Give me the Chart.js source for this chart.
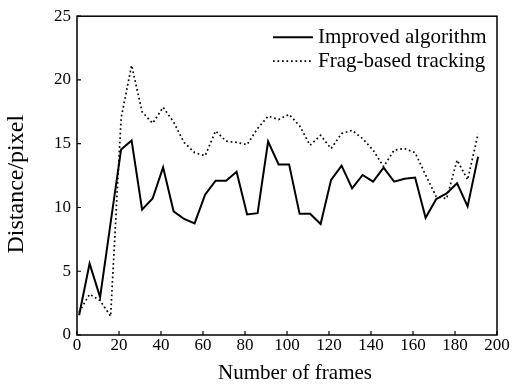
<!DOCTYPE html>
<html>
<head>
<meta charset="utf-8">
<script src="https://cdn.jsdelivr.net/npm/chart.js@4"></script>
<style>
  html, body { margin: 0; padding: 0; background: #fff; }
  #wrap { width: 512px; height: 387px; }
</style>
</head>
<body>
<div id="wrap"><canvas id="lineChart" width="512" height="387"></canvas></div>
<script>
const frames = [1, 6, 11, 16, 21, 26, 31, 36, 41, 46, 51, 56, 61, 66, 71, 76, 81, 86, 91, 96,
  101, 106, 111, 116, 121, 126, 131, 136, 141, 146, 151, 156, 161, 166, 171, 176, 181, 186, 191];
const improved = [1.55, 5.6, 2.97, 8.8, 14.55, 15.25, 9.83, 10.7, 13.15, 9.7, 9.1, 8.75, 11.0, 12.1, 12.1, 12.8, 9.45, 9.55, 15.17, 13.38,
  13.38, 9.5, 9.5, 8.7, 12.17, 13.28, 11.5, 12.55, 12.03, 13.12, 12.03, 12.25, 12.35, 9.19, 10.65, 11.1, 11.9, 10.09, 13.98];
const fragBased = [1.8, 3.2, 2.7, 1.47, 17.0, 21.15, 17.5, 16.6, 17.86, 16.7, 15.1, 14.3, 14.05, 16.0, 15.2, 15.1, 14.93, 16.2, 17.16, 16.9,
  17.3, 16.4, 14.88, 15.66, 14.62, 15.8, 16.05, 15.4, 14.5, 13.2, 14.5, 14.62, 14.3, 12.55, 10.87, 10.69, 13.72, 12.17, 15.78];
const xTicks = [0, 20, 40, 60, 80, 100, 120, 140, 160, 180, 200];
const yTicks = [0, 5, 10, 15, 20, 25];
const seriesNames = ['Improved algorithm', 'Frag-based tracking'];
const xTitle = 'Number of frames';
const yTitle = 'Distance/pixel';

const serif = "'Liberation Serif', 'Times New Roman', serif";

function toPoints(values) {
  return frames.map((f, i) => ({ x: f, y: values[i] }));
}

// box round the plot, MATLAB-style inward ticks, axis titles
const frameBox = {
  id: 'frameBox',
  afterDraw(chart) {
    const { ctx, chartArea: a, scales } = chart;
    ctx.save();
    ctx.strokeStyle = '#000';
    ctx.lineWidth = 1.5;
    ctx.strokeRect(a.left, a.top, a.right - a.left, a.bottom - a.top);
    ctx.lineWidth = 1.2;
    ctx.beginPath();
    xTicks.forEach((v) => {
      const px = scales.x.getPixelForValue(v);
      ctx.moveTo(px, a.bottom);
      ctx.lineTo(px, a.bottom - 4);
    });
    yTicks.forEach((v) => {
      const py = scales.y.getPixelForValue(v);
      ctx.moveTo(a.left, py);
      ctx.lineTo(a.left + 4, py);
    });
    ctx.stroke();

    ctx.fillStyle = '#000';
    ctx.textAlign = 'center';
    ctx.textBaseline = 'middle';
    ctx.font = '21px ' + serif;
    ctx.fillText(xTitle, a.left + 218, a.bottom + 38);
    ctx.translate(17, a.top + 168);
    ctx.rotate(-Math.PI / 2);
    ctx.font = '24px ' + serif;
    ctx.fillText(yTitle, 0, 0);
    ctx.restore();
  }
};

// legend without a box, top right inside the plot
const cornerLegend = {
  id: 'cornerLegend',
  afterDraw(chart) {
    const { ctx, chartArea: a } = chart;
    ctx.save();
    ctx.font = '21px ' + serif;
    ctx.fillStyle = '#000';
    ctx.textBaseline = 'middle';
    chart.data.datasets.forEach((ds, i) => {
      const y = a.top + 21 + i * 24;
      const x0 = a.left + 196;
      ctx.strokeStyle = ds.borderColor;
      ctx.lineWidth = ds.borderWidth;
      ctx.setLineDash(ds.borderDash || []);
      ctx.beginPath();
      ctx.moveTo(x0, y);
      ctx.lineTo(x0 + 40, y);
      ctx.stroke();
      ctx.fillText(ds.label, x0 + 45, y);
    });
    ctx.restore();
  }
};

new Chart(document.getElementById('lineChart'), {
  type: 'line',
  data: {
    datasets: [
      {
        label: seriesNames[0],
        data: toPoints(improved),
        borderColor: '#000',
        borderWidth: 2,
        pointRadius: 0,
        tension: 0,
        fill: false
      },
      {
        label: seriesNames[1],
        data: toPoints(fragBased),
        borderColor: '#000',
        borderWidth: 1.7,
        borderDash: [1.7, 2.8],
        pointRadius: 0,
        tension: 0,
        fill: false
      }
    ]
  },
  options: {
    responsive: false,
    animation: false,
    devicePixelRatio: 1,
    layout: { padding: { top: 13, right: 15, left: 0, bottom: 0 } },
    plugins: {
      legend: { display: false },
      tooltip: { enabled: false }
    },
    scales: {
      x: {
        type: 'linear',
        min: 0,
        max: 200,
        afterBuildTicks: (s) => { s.ticks = xTicks.map((v) => ({ value: v })); },
        afterFit: (s) => { s.height = 52; },
        grid: { display: false, drawTicks: false },
        border: { display: false },
        ticks: { color: '#000', padding: 0, maxRotation: 0, font: { family: serif, size: 17 } }
      },
      y: {
        min: 0,
        max: 25,
        afterBuildTicks: (s) => { s.ticks = yTicks.map((v) => ({ value: v })); },
        afterFit: (s) => { s.width = 77; },
        grid: { display: false, drawTicks: false },
        border: { display: false },
        ticks: { color: '#000', padding: 6, font: { family: serif, size: 17 } }
      }
    }
  },
  plugins: [frameBox, cornerLegend]
});
</script>
</body>
</html>
